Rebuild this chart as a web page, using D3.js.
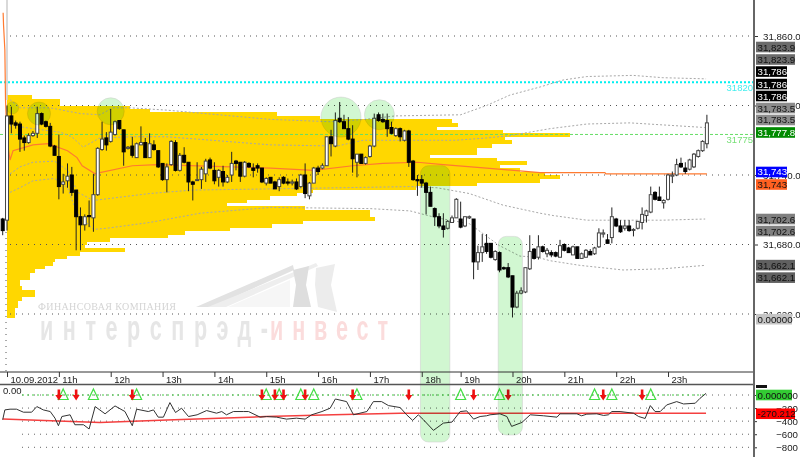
<!DOCTYPE html>
<html><head><meta charset="utf-8">
<script src="https://cdn.jsdelivr.net/npm/d3@7"></script>
<style>
html,body{margin:0;padding:0;background:#fff}
svg{display:block;font-family:"Liberation Sans",Arial,sans-serif}
</style></head><body><svg id="c" width="800" height="457"></svg>
<script>
const opens=[31702,31701,31791,31785,31784,31772,31768,31774,31776,31793,31786,31782,31765,31756,31732,31735,31740,31727,31704,31697,31705,31703,31723,31762,31772,31769,31775,31787,31779,31763,31765,31755,31766,31768,31755,31766,31761,31750,31736,31749,31768,31744,31757,31751,31734,31736,31736,31741,31753,31744,31738,31743,31734,31740,31752,31751,31739,31750,31746,31748,31746,31733,31738,31734,31730,31738,31734,31733,31734,31730,31740,31722,31733,31746,31746,31748,31773,31765,31789,31786,31780,31771,31751,31758,31750,31756,31765,31792,31788,31787,31781,31774,31780,31770,31778,31752,31736,31736,31733,31725,31711,31704,31696,31694,31699,31703,31702,31696,31703,31702,31665,31673,31681,31681,31667,31673,31660,31660,31653,31626,31638,31639,31659,31676,31669,31678,31672,31673,31673,31669,31680,31677,31671,31678,31668,31669,31674,31672,31678,31689,31684,31686,31702,31696,31694,31696,31693,31694,31699,31705,31708,31725,31721,31716,31719,31739,31740,31750,31746,31745,31747,31756,31761,31767];
const highs=[31703,31800,31799,31787,31786,31774,31776,31778,31799,31794,31787,31785,31766,31775,31741,31750,31747,31727,31712,31706,31718,31741,31764,31786,31777,31797,31787,31787,31779,31765,31773,31768,31782,31772,31776,31770,31761,31750,31750,31770,31770,31759,31764,31751,31735,31751,31747,31754,31755,31751,31745,31748,31740,31760,31753,31751,31752,31751,31750,31750,31746,31738,31738,31735,31738,31739,31737,31736,31737,31741,31750,31734,31747,31748,31750,31773,31779,31794,31803,31792,31790,31783,31758,31758,31756,31766,31793,31794,31793,31793,31786,31781,31781,31779,31779,31753,31740,31740,31734,31730,31712,31707,31707,31701,31705,31720,31717,31704,31705,31702,31679,31689,31689,31681,31675,31674,31661,31664,31653,31640,31643,31660,31688,31677,31688,31679,31677,31675,31674,31684,31681,31678,31679,31678,31673,31676,31676,31678,31694,31693,31689,31712,31703,31701,31701,31701,31694,31700,31712,31710,31730,31726,31730,31719,31741,31743,31754,31755,31751,31754,31759,31762,31770,31792];
const lows=[31688,31692,31776,31780,31760,31761,31767,31773,31772,31783,31781,31764,31757,31719,31724,31729,31722,31675,31675,31692,31695,31691,31722,31761,31761,31768,31774,31779,31748,31762,31755,31755,31766,31755,31755,31761,31746,31735,31725,31748,31743,31743,31750,31726,31718,31735,31728,31734,31745,31732,31730,31730,31733,31734,31744,31734,31738,31746,31738,31742,31733,31731,31733,31728,31726,31732,31731,31731,31727,31729,31720,31719,31733,31740,31745,31748,31756,31764,31785,31780,31770,31742,31738,31750,31749,31755,31764,31786,31785,31773,31775,31773,31769,31769,31747,31735,31722,31729,31706,31713,31696,31694,31686,31693,31699,31703,31694,31695,31702,31650,31658,31665,31672,31668,31666,31656,31658,31651,31617,31625,31637,31638,31658,31667,31667,31673,31669,31669,31669,31669,31674,31673,31671,31668,31668,31669,31671,31671,31677,31686,31681,31681,31695,31690,31692,31691,31687,31693,31693,31699,31707,31718,31718,31711,31718,31733,31739,31746,31741,31744,31746,31755,31760,31763];
const closes=[31692,31791,31784,31783,31771,31768,31774,31776,31793,31784,31782,31765,31757,31730,31734,31739,31725,31704,31697,31704,31704,31723,31763,31771,31766,31777,31786,31780,31760,31764,31757,31767,31768,31755,31767,31762,31747,31736,31747,31769,31744,31757,31751,31734,31732,31736,31745,31752,31746,31735,31744,31734,31738,31750,31750,31739,31751,31747,31744,31746,31734,31737,31733,31728,31736,31733,31733,31734,31728,31740,31724,31733,31746,31743,31748,31773,31767,31787,31786,31780,31771,31754,31758,31750,31755,31765,31789,31787,31786,31780,31776,31780,31773,31778,31751,31736,31735,31733,31725,31713,31704,31696,31693,31700,31703,31719,31695,31704,31704,31665,31673,31678,31674,31669,31674,31658,31659,31652,31626,31638,31640,31660,31674,31668,31678,31674,31675,31671,31670,31679,31675,31673,31678,31668,31672,31675,31671,31677,31690,31690,31681,31704,31696,31691,31696,31692,31693,31700,31706,31709,31723,31719,31718,31718,31740,31740,31749,31747,31743,31753,31758,31761,31769,31785];

const profileLevels=[31809,31806,31803,31800,31797,31794,31791,31788,31785,31782,31779,31776,31773,31770,31767,31764,31761,31758,31755,31752,31749,31746,31743,31740,31737,31734,31731,31728,31725,31722,31719,31716,31713,31710,31707,31704,31701,31698,31695,31692,31689,31686,31683,31680,31677,31674,31671,31668,31665,31662,31659,31656,31653,31650,31647,31644,31641,31638,31635,31632,31629,31626,31623,31620];
const profileVolumes=[25,53,53,123,143,270,313,445,451,430,496,563,498,505,485,470,470,423,490,520,493,513,538,553,533,470,409,306,290,263,240,220,298,363,363,368,296,265,223,178,161,103,80,78,118,73,60,48,46,38,28,23,23,13,13,15,28,28,15,11,11,8,8,8];

const vwapBars=[0.1,0.2,0.5,0.65,1,1.7,2.4,7,10.5,15,17.2,18.4,21.4,22.5,30,35.7,62,72,81,88,96,102,112,124.4,139.4,139.6,163];
const vwapPrices=[31880,31869,31848,31805,31770,31753,31761,31766,31767,31761,31755,31748,31741,31742,31748,31749,31746,31744,31748,31750,31751,31749,31746,31742,31742,31741,31741];
const band1Bars=[1.7,4,11,18,22.5,25.5,29.5,38,62,75.8,83.9,90.8,106,112,117.4,124.4,129.7,135.2,145.9,152.8,162.8];
const band1Prices=[31805,31798,31798,31793,31792,31798,31798,31796,31788,31786,31788,31791,31792,31800,31809,31816,31822,31825,31826,31824,31823];
const band2Bars=[1.7,7,13.3,16,18.6,22.5,30.2,38,62,77.4,83.4,105,112,117.4,122,126.7,135.2,145.2,162.5];
const band2Prices=[31783,31780,31777,31773,31764,31772,31773,31773,31766,31765,31770,31770,31772,31774,31777,31780,31784,31785,31781];
const band3Bars=[1.7,4,7,12,15,17.4,21,34,44,62,94.3,100.5,108,115.8,124.4,127.4,135.2,152.8,162.6];
const band3Prices=[31741,31747,31751,31752,31744,31725,31718,31724,31727,31728,31730,31729,31724,31714,31707,31705,31701,31701,31702];
const band4Bars=[1.7,4,7,12,15,17.2,21,24,34,45.7,62,85,94.3,100.5,108,115,119.7,123.7,126.7,133.6,143.6,152.8,162.6];
const band4Prices=[31725,31729,31735,31737,31729,31707,31693,31694,31699,31707,31712,31711,31709,31703,31698,31679,31670,31669,31666,31662,31658,31659,31662];

const indBars=[0,0.5,1.7,3.2,4.8,6.7,7.9,9.4,11,12.1,12.9,13.7,15.6,16.7,18.7,20,21.4,23.7,26,28.3,30,31,33.7,34.9,36,37.2,38.7,40,41.4,43,45,47.2,49.5,50.7,51.8,53.4,55.7,56.9,59.6,61.1,63.4,65.7,68,70,71.5,73.9,75.8,77,79.6,81.2,82.7,84.3,85.8,87.7,89.3,92,93.5,94.9,96.2,97.4,99.7,102,104,105.9,107.4,109,110.5,112,112.8,115.1,116.7,117.8,120.2,122.1,125.2,128.3,129,132.9,134,135.2,137.5,139.1,140.2,141,142.9,146,147.2,148.7,149.9,151,152.2,153.7,156,157.6,160.3,161.4,162.8];
const indValues=[-379,-228,-217,-217,-263,-263,-177,-228,-253,-354,-470,-329,-303,-455,-455,-520,-177,-288,-167,-253,-470,-217,-253,-228,-339,-339,-116,-268,-202,-329,-303,-238,-278,-253,-303,-253,-253,-253,-339,-329,-339,-369,-354,-369,-303,-253,-202,-61,-101,-303,-278,-253,-101,-101,-162,-192,-303,-389,-303,-379,-541,-430,-414,-253,-243,-369,-329,-318,-303,-288,-329,-480,-419,-303,-318,-339,-288,-288,-318,-293,-288,-313,-303,-253,-253,-278,-329,-359,-162,-253,-253,-152,-101,-137,-126,-51,25];
const signalBars=[0,22.5,38,61,76.5,92,162.8];
const signalValues=[-369,-419,-384,-329,-303,-278,-278];
const sellBars=[13,17,30,60,63,65,70,81,94,109,117,139,148];
const buyBars=[14,21,31,61,64,69,72,82,106,115,137,141,150];

const priceTicks=[31620,31680,31740,31800,31860];
const indTicks=[0,-200,-400,-600,-800];
const hourBars=[1,13,25,37,49,61,73,85,97,106,118,130,142,154];
const hourLabels=["10.09.2012","11h","12h","13h","14h","15h","16h","17h","18h","19h","20h","21h","22h","23h"];
const tagLabels=["31,823.9","31,823.9","31,786","31,786","31,786","31,783.5","31,783.5","31,777.8","31,743","31,743","31,702.6","31,702.6","31,662.1","31,662.1"];
const tagSlots=[31850.5,31839.7,31829.3,31818.5,31808.2,31797.8,31787.5,31776.7,31742.6,31731.8,31702,31691.6,31662.2,31651.4];
const tagFills=["#6b6b6b","#6b6b6b","#000","#000","#000","#8c8c8c","#8c8c8c","#008a00","#0000ff","#ff6020","#808080","#808080","#606060","#606060"];
const tagInks=["#111","#111","#fff","#fff","#fff","#111","#111","#fff","#fff","#111","#111","#111","#111","#111"];

const svg=d3.select("#c");
const x=d3.scaleLinear([0,163],[2.7,706.9]);
const y=d3.scaleLinear([31620,31860],[314,36]);
const yi=d3.scaleLinear([-800,0],[447.3,395]);
const v=d3.scaleLinear([0,563],[7,570]);
const axisX=754;

// watermark
const wm=svg.append("g");
wm.append("path").attr("d","M196,307 L293,265 L294,270 L212,307Z").attr("fill","#e2e2e2");
wm.append("path").attr("d","M208,307 L316,263 L318,266 L226,307Z").attr("fill","#eeeeee");
wm.append("path").attr("d","M293,270 L309,266 L306,285 L311,307 L293,307 L296,285Z").attr("fill","#dedede");
wm.append("path").attr("d","M316,268 L335,264 L331,285 L337,312 L318,307 L315,285Z").attr("fill","#ececec");
wm.append("path").attr("d","M228,307 L290,280 L290,307Z").attr("fill","#f6f6f6");
wm.append("text").attr("x",38).attr("y",310).attr("font-family","Liberation Serif").attr("font-size",10).attr("fill","#d4d4d4").attr("textLength",138).text("ФИНАНСОВАЯ КОМПАНИЯ");
const wmBig=[["интерспрэд-",40,228,"#e6e6e6"],["инвест",270,118,"#fbdcdc"]];
wmBig.forEach(d=>{
  wm.append("text").attr("transform",`translate(${d[1]},340) scale(0.6,1)`).attr("font-weight","bold")
    .attr("font-size",36).attr("fill",d[3]).attr("textLength",d[2]/0.6).attr("lengthAdjust","spacing").text(d[0]);
});

// volume profile
svg.append("g").attr("shape-rendering","crispEdges").selectAll("rect").data(profileLevels).join("rect")
  .attr("x",v(0)).attr("y",d=>y(d)).attr("width",(d,i)=>v(profileVolumes[i])-v(0))
  .attr("height",d=>y(d-3)-y(d)+0.6).attr("fill","#ffd700");

// grid
const grid=svg.append("g");
grid.selectAll("line").data(priceTicks).join("line")
  .attr("x1",10).attr("x2",axisX).attr("y1",d=>y(d)).attr("y2",d=>y(d))
  .attr("stroke","#555").attr("stroke-dasharray","1 5");
svg.append("line").attr("x1",7).attr("x2",7).attr("y1",0).attr("y2",100).attr("stroke","#ccc").attr("stroke-width",1.5);
svg.append("line").attr("x1",6).attr("x2",6).attr("y1",232).attr("y2",371).attr("stroke","#555").attr("stroke-dasharray","1 5");

// levels
svg.append("line").attr("x1",0).attr("x2",axisX).attr("y1",y(31820)).attr("y2",y(31820)).attr("stroke","#00f0f0").attr("stroke-width",2).attr("stroke-dasharray","2 2");
svg.append("line").attr("x1",0).attr("x2",axisX).attr("y1",y(31775)).attr("y2",y(31775)).attr("stroke","#66dd66").attr("stroke-dasharray","3 2");
svg.append("text").attr("x",753).attr("y",y(31820)+9).attr("text-anchor","end").attr("font-size",9.5).attr("fill","#44eeee").text("31820");
svg.append("text").attr("x",753).attr("y",y(31775)+9).attr("text-anchor","end").attr("font-size",9.5).attr("fill","#77e077").text("31775");

// bands and vwap
const line=d3.line().x(d=>x(d[0])).y(d=>y(d[1]));
[[band1Bars,band1Prices],[band2Bars,band2Prices],[band3Bars,band3Prices],[band4Bars,band4Prices]].forEach(b=>{
  svg.append("path").attr("d",line(b[0].map((d,i)=>[d,b[1][i]]))).attr("fill","none").attr("stroke","#a8a8a8").attr("stroke-dasharray","2 2");
});
svg.append("path").attr("d",line(vwapBars.map((d,i)=>[d,vwapPrices[i]]))).attr("fill","none").attr("stroke","#ff7a30").attr("stroke-width",1.2);

// candles
const candles=svg.append("g").selectAll("g").data(opens).join("g");
candles.append("line").attr("x1",(d,i)=>x(i)).attr("x2",(d,i)=>x(i))
  .attr("y1",(d,i)=>y(highs[i])).attr("y2",(d,i)=>y(lows[i])).attr("stroke","#222");
candles.append("rect").attr("x",(d,i)=>x(i)-1.5).attr("width",3)
  .attr("y",(d,i)=>y(Math.max(d,closes[i])))
  .attr("height",(d,i)=>Math.max(1,Math.abs(y(d)-y(closes[i]))))
  .attr("fill",(d,i)=>closes[i]>=d?"#fff":"#000").attr("stroke",(d,i)=>closes[i]>=d?"#444":"#000");

// indicator panel
const ig=svg.append("g");
ig.selectAll("line").data(indTicks).join("line")
  .attr("x1",22).attr("x2",axisX).attr("y1",d=>yi(d)).attr("y2",d=>yi(d))
  .attr("stroke","#666").attr("stroke-dasharray","1 5");
ig.append("line").attr("x1",22).attr("x2",x(163)).attr("y1",yi(0)).attr("y2",yi(0)).attr("stroke","#44cc44").attr("stroke-dasharray","2 3").attr("stroke-width",1.2);
ig.append("text").attr("x",3).attr("y",394).attr("font-size",9.5).attr("fill","#222").text("0.00");
const iline=d3.line().x(d=>x(d[0])).y(d=>yi(d[1]));
ig.append("path").attr("d",iline(signalBars.map((d,i)=>[d,signalValues[i]]))).attr("fill","none").attr("stroke","#f44040").attr("stroke-width",1.5);
ig.append("path").attr("d",iline(indBars.map((d,i)=>[d,indValues[i]]))).attr("fill","none").attr("stroke","#333").attr("stroke-width",1);
ig.selectAll("path.buy").data(buyBars).join("path").attr("class","buy")
  .attr("d","M0,-5.5 L5,5 L-5,5Z").attr("transform",d=>`translate(${x(d)},${yi(0)-0.5})`)
  .attr("fill","none").attr("stroke","#44dd44").attr("stroke-width",1.2);
ig.selectAll("path.sell").data(sellBars).join("path").attr("class","sell")
  .attr("d","M-1.3,-5.5 L1.3,-5.5 L1.3,0 L3.5,0 L0,5.5 L-3.5,0 L-1.3,0Z").attr("transform",d=>`translate(${x(d)},${yi(0)})`)
  .attr("fill","#ee1111");

// highlights
const hl=svg.append("g");
const hlCircles=[[2.3,31798,6],[8.4,31793,11.5],[25,31795,13.5],[78.3,31790,20],[87.2,31792,15]];
const hlBands=[[97,31748,103.5],[115,31687,120.3]];
function hlStyle(s){return s.attr("fill","#b4f2b4").attr("fill-opacity",0.62).style("mix-blend-mode","multiply").attr("stroke","#ccc").attr("stroke-opacity",.5);}
hlStyle(hl.selectAll("circle").data(hlCircles).join("circle").attr("cx",d=>x(d[0])).attr("cy",d=>y(d[1])).attr("r",d=>d[2]));
hlStyle(hl.selectAll("rect").data(hlBands).join("rect").attr("x",d=>x(d[0])-1.3).attr("width",d=>x(d[2])-x(d[0])+1.3).attr("y",d=>y(d[1])).attr("height",d=>(d[1]===31748?442:435)-y(d[1])).attr("rx",8));

// time axis
svg.append("line").attr("x1",0).attr("x2",axisX).attr("y1",372).attr("y2",372).attr("stroke","#333").attr("stroke-width",1);
svg.append("line").attr("x1",0).attr("x2",axisX).attr("y1",384.5).attr("y2",384.5).attr("stroke","#555").attr("stroke-width",1.5);
const xa=svg.append("g").attr("transform","translate(0,372)").call(d3.axisBottom(x).tickValues(hourBars).tickSize(5).tickPadding(-1).tickFormat(d=>hourLabels[hourBars.indexOf(d)]));
xa.select(".domain").remove();
xa.selectAll("text").attr("text-anchor","start").attr("dx",3).attr("font-size",9.5).attr("font-family","Liberation Sans").attr("fill","#222");
xa.selectAll("line").attr("stroke","#333");

// right axes
const pa=svg.append("g").attr("transform",`translate(${axisX},0)`).call(d3.axisRight(y).tickValues(priceTicks).tickSize(4).tickPadding(5).tickFormat(d3.format(",.1f")));
pa.select(".domain").remove();
pa.selectAll("text").attr("font-size",9.7).attr("font-family","Liberation Sans").attr("fill","#222");
pa.selectAll("line").attr("stroke","#333");
const ia=svg.append("g").attr("transform",`translate(${axisX},0)`).call(d3.axisRight(yi).tickValues(indTicks).tickSize(3).tickPadding(0).tickFormat(d3.format("d")));
ia.select(".domain").remove();
ia.selectAll("text").attr("x",44).attr("text-anchor","end").attr("font-size",9.7).attr("font-family","Liberation Sans").attr("fill","#222");
ia.selectAll("line").attr("stroke","#333");
svg.append("line").attr("x1",axisX).attr("x2",axisX).attr("y1",0).attr("y2",457).attr("stroke","#666").attr("stroke-width",2);

// tags
const tagW=s=>s.length>=8?39:31;
const tags=svg.append("g").selectAll("g").data(tagLabels).join("g").attr("transform",(d,i)=>`translate(756,${y(tagSlots[i])})`);
tags.append("rect").attr("y",-5.3).attr("height",10.6).attr("width",tagW).attr("fill",(d,i)=>tagFills[i]);
tags.append("text").attr("x",1.5).attr("y",3.5).attr("font-size",9.7).attr("fill",(d,i)=>tagInks[i]).text(d=>d);

const extra=svg.append("g");
function tag(val,scale,w,fill,ink,txt){const g=extra.append("g").attr("transform",`translate(756,${scale(val)})`);
  g.append("rect").attr("y",-5.3).attr("height",10.6).attr("width",w).attr("fill",fill);
  g.append("text").attr("x",1.5).attr("y",3.5).attr("font-size",9.7).attr("fill",ink).text(txt);}
tag(31615.5,y,36,"#c4c4c4","#111","0.00000");
tag(0,yi,36,"#33cc33","#111","0.00000");
tag(-287,yi,39,"#ff0000","#111","-270.212");
extra.append("rect").attr("x",756).attr("y",385).attr("width",11).attr("height",3).attr("fill","#111");
</script></body></html>
